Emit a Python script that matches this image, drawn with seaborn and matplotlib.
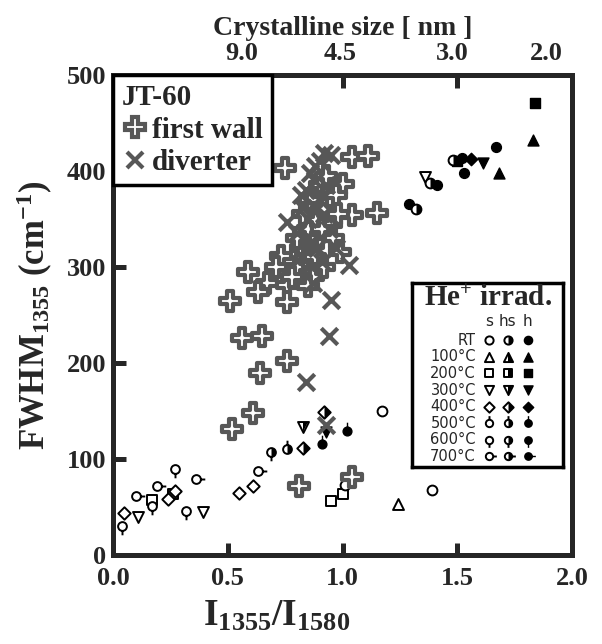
import matplotlib
matplotlib.use("Agg")
import matplotlib.pyplot as plt
import numpy as np
import pandas as pd
import seaborn as sns
from matplotlib.path import Path
from matplotlib.markers import MarkerStyle
from matplotlib.lines import Line2D

# JT-60 tiles (plus = first wall, x = diverter)
wall_x = [0.75, 1.04, 1.11, 1.00, 1.15, 1.04, 0.99, 0.73, 0.59, 0.67, 0.63, 0.76,
          0.76, 0.51, 0.71, 0.56, 0.65, 0.76, 0.64, 0.61, 0.52, 0.81, 1.04,
          0.80, 0.82, 0.85, 0.88, 0.90, 0.84, 0.87, 0.92, 0.95, 0.80, 0.83, 0.86,
          0.90, 0.93, 0.97, 0.88, 0.92, 0.96, 0.78, 0.85, 0.91, 0.98]
wall_y = [403, 415, 416, 386, 356, 354, 316, 311, 295, 283, 274, 281,
          264, 265, 300, 226, 228, 202, 190, 148, 131, 72, 81,
          300, 320, 340, 350, 330, 310, 290, 360, 345, 330, 355, 370,
          385, 395, 375, 310, 300, 330, 290, 280, 340, 355]
div_x = [0.95, 0.92, 0.86, 0.83, 0.76, 1.03, 0.87, 0.95, 0.94, 0.84, 0.93, 0.88,
         0.90, 0.84, 0.82, 0.88, 0.85, 0.90, 0.92, 0.80, 0.86, 0.89, 0.94, 0.82,
         0.91, 0.97, 0.93, 0.87]
div_y = [417, 419, 398, 361, 347, 302, 283, 266, 228, 180, 135, 405,
         410, 380, 375, 390, 350, 370, 355, 335, 325, 320, 340, 310,
         305, 320, 385, 365]

# He+ irradiated graphite
he_x = [1.17, 1.39, 1.01, 1.24, 0.95, 1.00, 0.17, 0.26, 0.11, 0.39, 1.36,
        0.05, 0.24, 0.27, 0.55, 0.61, 0.04, 0.17, 0.27, 0.32, 0.10, 0.19, 0.36, 0.63,
        0.69, 0.76, 0.83, 0.92, 0.83, 1.38, 1.32, 1.48,
        0.91, 1.02, 0.93, 1.61, 1.84, 1.50, 1.83, 1.68, 1.67, 1.53, 1.52, 1.41, 1.29, 1.56]
he_y = [150, 68, 73, 53, 56, 64, 57, 64, 40, 45, 394,
        44, 58, 67, 65, 72, 30, 51, 90, 46, 61, 72, 79, 88,
        107, 110, 111, 149, 133, 388, 360, 412,
        116, 129, 128, 408, 471, 410, 432, 398, 425, 398, 414, 385, 366, 413]
he_temp = ["RT", "RT", "RT", "100°C", "200°C", "200°C", "200°C", "200°C", "300°C", "300°C", "300°C",
           "400°C", "400°C", "400°C", "400°C", "400°C", "600°C", "600°C", "600°C", "600°C",
           "700°C", "700°C", "700°C", "700°C",
           "600°C", "500°C", "400°C", "400°C", "300°C", "RT", "RT", "RT",
           "500°C", "500°C", "300°C", "300°C", "200°C", "200°C", "100°C", "100°C",
           "RT", "RT", "RT", "RT", "RT", "400°C"]
he_state = ["s"] * 24 + ["hs"] * 8 + ["h"] * 14

temps = ["RT", "100°C", "200°C", "300°C", "400°C", "500°C", "600°C", "700°C"]
states = ["s", "hs", "h"]
top_ticks = [0.56, 0.99, 1.48, 1.89]
top_labels = ["9.0", "4.5", "3.0", "2.0"]

grey = "#575757"
serif = "Liberation Serif"


def stem_path(dx, dy, half=False):
    if half:
        arc = Path.arc(-90, 90)
        body = Path(np.vstack([arc.vertices * 0.55, [[0, 0]]]),
                    [Path.MOVETO] + [Path.CURVE4] * (len(arc.vertices) - 1) + [Path.CLOSEPOLY])
    else:
        body = Path.circle((0, 0), 0.55)
    line = Path([(dx * 0.55, dy * 0.55), (dx * 1.1, dy * 1.1)], [Path.MOVETO, Path.LINETO])
    return Path.make_compound_path(body, line)


base_marker = {"RT": "o", "100°C": "^", "200°C": "s", "300°C": "v", "400°C": "D",
               "500°C": stem_path(0, 1), "600°C": stem_path(0, -1), "700°C": stem_path(1, 0)}
half_marker = {"RT": MarkerStyle("o", fillstyle="right"),
               "100°C": MarkerStyle("^", fillstyle="right"),
               "200°C": MarkerStyle("s", fillstyle="right"),
               "300°C": MarkerStyle("v", fillstyle="right"),
               "400°C": MarkerStyle("D", fillstyle="right"),
               "500°C": stem_path(0, 1, True), "600°C": stem_path(0, -1, True),
               "700°C": stem_path(1, 0, True)}
marker_size = {"RT": 50, "100°C": 62, "200°C": 42, "300°C": 62, "400°C": 40,
               "500°C": 160, "600°C": 160, "700°C": 160}


def draw_group(ax, d, temp, state, scale=1.0):
    s = marker_size[temp] * scale
    if state == "h":
        sns.scatterplot(data=d, x="x", y="y", marker=base_marker[temp], s=s, color="black",
                        edgecolor="black", linewidth=1.0, ax=ax, legend=False, zorder=3)
        return
    sns.scatterplot(data=d, x="x", y="y", marker=base_marker[temp], s=s, color="black",
                    facecolor="white", edgecolor="black", linewidth=1.4, ax=ax,
                    legend=False, zorder=3)
    if state == "hs":
        sns.scatterplot(data=d, x="x", y="y", marker=half_marker[temp], s=s, color="black",
                        linewidth=0, ax=ax, legend=False, zorder=4)


sns.set_style("ticks")
plt.rcParams["font.family"] = [serif, "DejaVu Sans"]
plt.rcParams["font.weight"] = "bold"
plt.rcParams["mathtext.fontset"] = "custom"
plt.rcParams["mathtext.rm"] = serif + ":bold"
plt.rcParams["mathtext.bf"] = serif + ":bold"
plt.rcParams["mathtext.it"] = serif + ":bold"

fig = plt.figure(figsize=(6.02, 6.44), dpi=100)
ax = fig.add_axes([0.1877, 0.1382, 0.7625, 0.7453])

he = pd.DataFrame({"x": he_x, "y": he_y, "temp": he_temp, "state": he_state})
for (temp, state), d in he.groupby(["temp", "state"]):
    draw_group(ax, d, temp, state)

wall = pd.DataFrame({"x": wall_x, "y": wall_y})
div = pd.DataFrame({"x": div_x, "y": div_y})
sns.scatterplot(data=wall, x="x", y="y", marker="P", s=190, color=grey, facecolor="white",
                edgecolor=grey, linewidth=3.0, ax=ax, legend=False, zorder=5)
sns.scatterplot(data=div, x="x", y="y", marker="x", s=140, color=grey, linewidth=3.0,
                ax=ax, legend=False, zorder=6)

ax.set_xlim(0, 2.0)
ax.set_ylim(0, 500)
ax.set_xticks(np.arange(0, 2.01, 0.5), [f"{v:.1f}" for v in np.arange(0, 2.01, 0.5)])
ax.set_yticks(np.arange(0, 501, 100))
ax.tick_params(direction="in", length=9, width=3.6, labelsize=19, pad=5)
ax.tick_params(axis="x", pad=9)
for sp in ax.spines.values():
    sp.set_linewidth(3.6)
    sp.set_visible(True)
    sp.set_zorder(10)
ax.set_xlabel("I$_{1355}$/I$_{1580}$", fontsize=27, fontweight="bold")
ax.xaxis.set_label_coords(0.357, -0.09)
ax.set_ylabel("FWHM$_{1355}$ (cm$^{-1}$)", fontsize=25, fontweight="bold", labelpad=8)

ax2 = ax.twiny()
ax2.set_xlim(ax.get_xlim())
ax2.set_xticks(top_ticks, top_labels)
ax2.set_xticks([1.0, 1.5], minor=True)
ax2.tick_params(which="major", length=0, labelsize=19, pad=7)
ax2.tick_params(which="minor", direction="in", length=9, width=3.6)
for sp in ax2.spines.values():
    sp.set_visible(False)
ax2.set_xlabel("Crystalline size [ nm ]", fontsize=20, fontweight="bold", labelpad=5)

# JT-60 legend
handles = [Line2D([], [], marker="P", ls="none", markersize=14, mfc="white", mec=grey, mew=3.0),
           Line2D([], [], marker="x", ls="none", markersize=12, color=grey, mew=3.0)]
leg = ax.legend(handles, ["first wall", "diverter"], title="JT-60", loc="upper left",
                borderaxespad=0, frameon=True, fancybox=False, framealpha=1,
                prop={"family": serif, "weight": "bold", "size": 21},
                title_fontproperties={"family": serif, "weight": "bold", "size": 21},
                alignment="left", handlelength=0.9, handletextpad=0.15,
                labelspacing=0.2, borderpad=0.3)
leg.get_frame().set_edgecolor("black")
leg.get_frame().set_linewidth(2.5)
leg.set_zorder(20)

# He+ legend table
lax = ax.inset_axes([0.651, 0.183, 0.329, 0.383])
lax.set_zorder(20)
lax.set_xlim(0, 151)
lax.set_ylim(184, 0)
col_x = [77, 96, 116]
row_y = [57 + 16.6 * i for i in range(len(temps))]
for i, temp in enumerate(temps):
    lax.text(64, row_y[i], temp, ha="right", va="center", fontsize=10.5,
             family="DejaVu Sans", fontweight="normal")
    for j, state in enumerate(states):
        d = pd.DataFrame({"x": [col_x[j]], "y": [row_y[i]]})
        draw_group(lax, d, temp, state, scale=0.7)
for j, state in enumerate(states):
    lax.text(col_x[j], 38, state, ha="center", va="center", fontsize=11,
             family="DejaVu Sans", fontweight="normal")
lax.text(76, 15, "He$^{+}$ irrad.", ha="center", va="center", fontsize=21, fontweight="bold")
lax.set_xticks([])
lax.set_yticks([])
lax.set_xlabel("")
lax.set_ylabel("")
for sp in lax.spines.values():
    sp.set_linewidth(2.5)
    sp.set_color("black")

fig.savefig("out.png", dpi=100)
